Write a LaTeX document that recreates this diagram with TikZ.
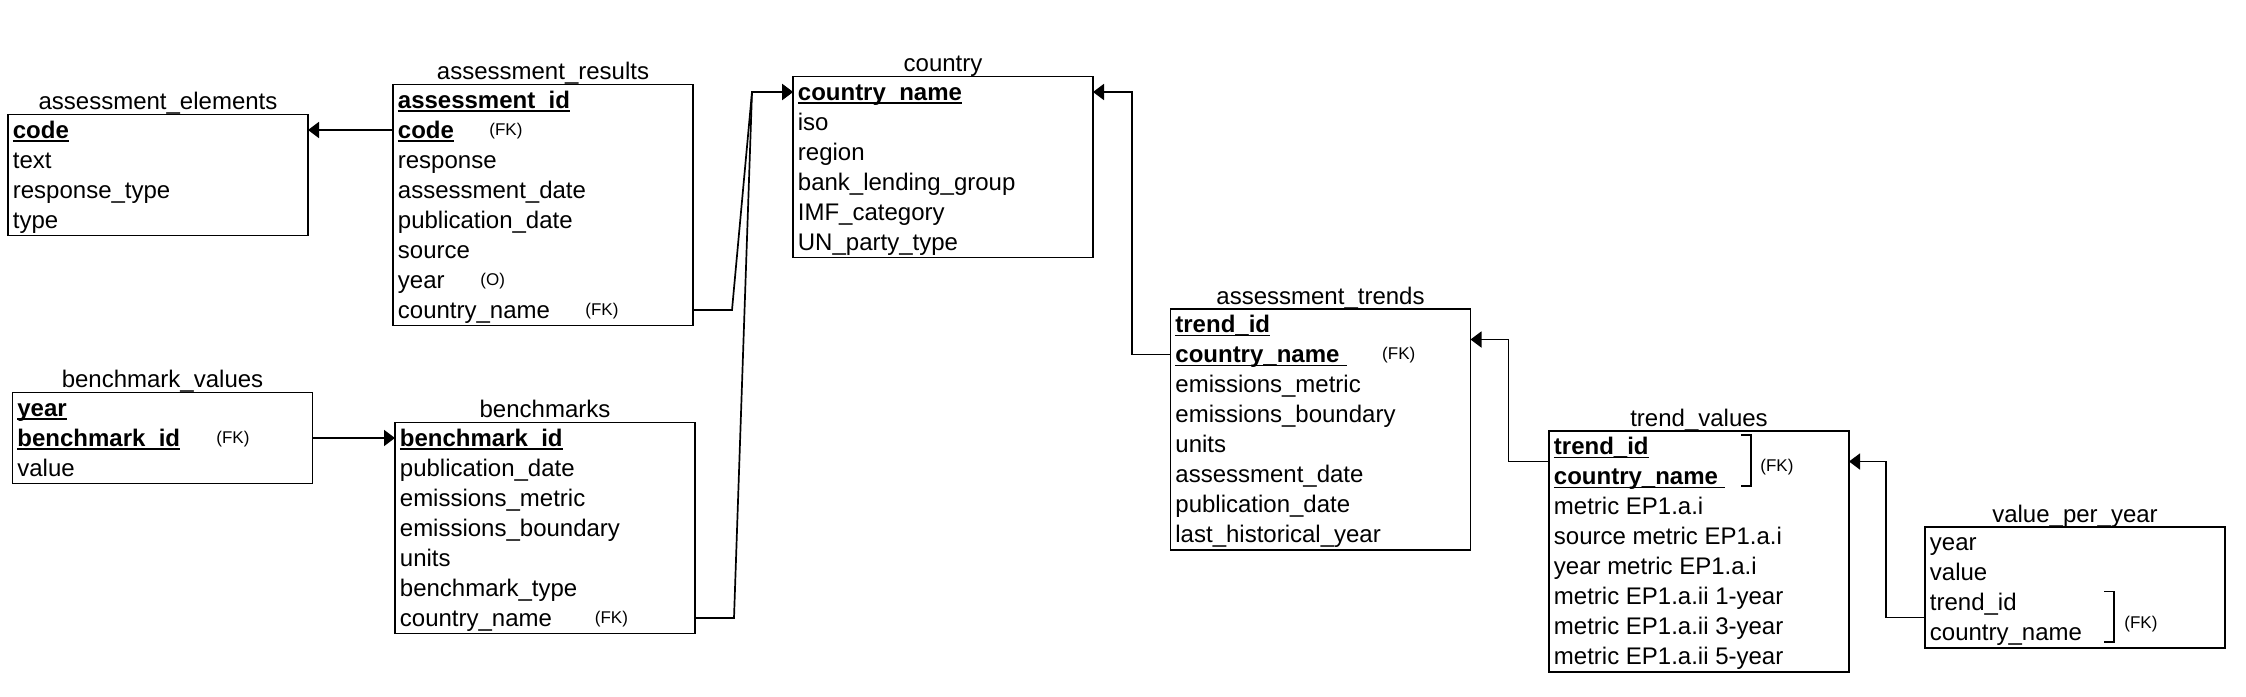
\documentclass[tikz,border=0pt]{standalone}
\usepackage{fontspec}
\setmainfont{Liberation Sans}
\usetikzlibrary{calc,arrows.meta}

\newcommand\keyf[2][]{{\bfseries\setbox0=\hbox{#2#1}\rlap{\rule[-1.9pt]{\wd0}{0.7pt}}#2}}

\tikzset{
  tblbox/.style={draw=black, line width=0.9pt, minimum width=150pt, inner sep=0pt, outer sep=0pt, fill=white},
  tbltitle/.style={inner sep=0pt, font=\fontsize{12}{14}\selectfont},
  fldtext/.style={inner sep=0pt, font=\fontsize{12}{14}\selectfont},
  fklabel/.style={inner sep=0pt, font=\fontsize{8.5}{10}\selectfont},
  conn/.style={draw=black, line width=0.85pt, -{Triangle[length=5.5pt,width=8pt]}},
  brk/.style={draw=black, line width=0.75pt},
}

\newcommand\mktbl[5]{%
  \node[tblbox, minimum height={(#4*30+1)*0.5pt}, anchor=north west] (#1) at (#2,#3) {};
  \node[tbltitle, anchor=base] (#1-title) at ($(#1.north)+(0,-5)$) {#5};}
\newcommand\mkrow[3]{%
  \coordinate (#1-#2) at ($(#1.north west)+(0,{15.5+30*#2})$);
  \node[fldtext, anchor=base west] (#1-#2t) at ($(#1-#2)+(4.5,8)$) {#3};}
\newcommand\mkfk[4]{%
  \node[fklabel, anchor=base west] (#1-#2fk) at ($(#1-#2)+(#3,5)$) {#4};}

\begin{document}
\begin{tikzpicture}[x=0.5pt, y=-0.5pt]
\useasboundingbox (0,0) rectangle (2246,696);

% assessment_elements
\mktbl{ae}{8}{114.5}{4}{assessment\_elements}
\mkrow{ae}{0}{\keyf{code}}
\mkrow{ae}{1}{text}
\mkrow{ae}{2}{response\_type}
\mkrow{ae}{3}{type}

% assessment_results
\mktbl{ar}{393}{84.5}{8}{assessment\_results}
\mkrow{ar}{0}{\keyf{assessment\_id}}
\mkrow{ar}{1}{\keyf{code}}
\mkrow{ar}{2}{response}
\mkrow{ar}{3}{assessment\_date}
\mkrow{ar}{4}{publication\_date}
\mkrow{ar}{5}{source}
\mkrow{ar}{6}{year}
\mkrow{ar}{7}{country\_name}
\mkfk{ar}{1}{96}{(FK)}
\mkfk{ar}{6}{87}{(O)}
\mkfk{ar}{7}{192}{(FK)}

% benchmark_values
\mktbl{bv}{12.5}{392.5}{3}{benchmark\_values}
\mkrow{bv}{0}{\keyf{year}}
\mkrow{bv}{1}{\keyf{benchmark\_id}}
\mkrow{bv}{2}{value}
\mkfk{bv}{1}{203.5}{(FK)}

% benchmarks
\mktbl{bm}{395}{422.5}{7}{benchmarks}
\mkrow{bm}{0}{\keyf{benchmark\_id}}
\mkrow{bm}{1}{publication\_date}
\mkrow{bm}{2}{emissions\_metric}
\mkrow{bm}{3}{emissions\_boundary}
\mkrow{bm}{4}{units}
\mkrow{bm}{5}{benchmark\_type}
\mkrow{bm}{6}{country\_name}
\mkfk{bm}{6}{199.5}{(FK)}

% country
\mktbl{co}{793}{76.5}{6}{country}
\mkrow{co}{0}{\keyf{country\_name}}
\mkrow{co}{1}{iso}
\mkrow{co}{2}{region}
\mkrow{co}{3}{bank\_lending\_group}
\mkrow{co}{4}{IMF\_category}
\mkrow{co}{5}{UN\_party\_type}

% assessment_trends
\mktbl{at}{1170.5}{309}{8}{assessment\_trends}
\mkrow{at}{0}{\keyf{trend\_id}}
\mkrow{at}{1}{\keyf[\kern4pt]{country\_name}}
\mkrow{at}{2}{emissions\_metric}
\mkrow{at}{3}{emissions\_boundary}
\mkrow{at}{4}{units}
\mkrow{at}{5}{assessment\_date}
\mkrow{at}{6}{publication\_date}
\mkrow{at}{7}{last\_historical\_year}
\mkfk{at}{1}{211.3}{(FK)}

% trend_values
\mktbl{tv}{1549}{431}{8}{trend\_values}
\mkrow{tv}{0}{\keyf{trend\_id}}
\mkrow{tv}{1}{\keyf[\kern3.5pt]{country\_name}}
\mkrow{tv}{2}{metric EP1.a.i}
\mkrow{tv}{3}{source metric EP1.a.i}
\mkrow{tv}{4}{year metric EP1.a.i}
\mkrow{tv}{5}{metric EP1.a.ii 1-year}
\mkrow{tv}{6}{metric EP1.a.ii 3-year}
\mkrow{tv}{7}{metric EP1.a.ii 5-year}
\draw[brk] ($(tv-0)+(192,-11.5)$) -- ++(10,0) -- ++(0,51) -- ++(-10,0);
\node[fklabel, anchor=base west] (tv-fk) at ($(tv-0)+(211,25)$) {(FK)};

% value_per_year
\mktbl{vpy}{1925}{527}{4}{value\_per\_year}
\mkrow{vpy}{0}{year}
\mkrow{vpy}{1}{value}
\mkrow{vpy}{2}{trend\_id}
\mkrow{vpy}{3}{country\_name}
\draw[brk] ($(vpy-2)+(179,-11)$) -- ++(10,0) -- ++(0,50.5) -- ++(-10,0);
\node[fklabel, anchor=base west] (vpy-fk) at ($(vpy-2)+(199,25.5)$) {(FK)};

% connectors
\coordinate (cb1) at ($(ar.east |- ar-7)+(39,0)$);
\coordinate (cb2) at ($(bm.east |- bm-6)+(39,0)$);
\coordinate (cj) at ($(co-0)+(-41,0)$);
\coordinate (tvk) at ($(tv-0)!0.5!(tv-1)$);
\coordinate (atk) at ($(at-0)!0.5!(at-1)$);
\coordinate (vpk) at ($(vpy-2)!0.5!(vpy-3)$);

\draw[conn] (ar.west |- ar-1) -- (ae.east |- ar-1);
\draw[conn] (bv.east |- bv-1) -- (bm.west |- bv-1);
\draw[conn] (ar.east |- ar-7) -- (cb1) -- (cj) -- (co-0);
\draw[conn] (bm.east |- bm-6) -- (cb2) -- (cj) -- (co-0);
\draw[conn] (at-1) -- ++(-38.5,0) |- (co.east |- co-0);
\draw[conn] (tvk) -- ++(-40.5,0) |- (at.east |- atk);
\draw[conn] (vpk) -- ++(-39.3,0) |- (tv.east |- tvk);
\end{tikzpicture}
\end{document}
